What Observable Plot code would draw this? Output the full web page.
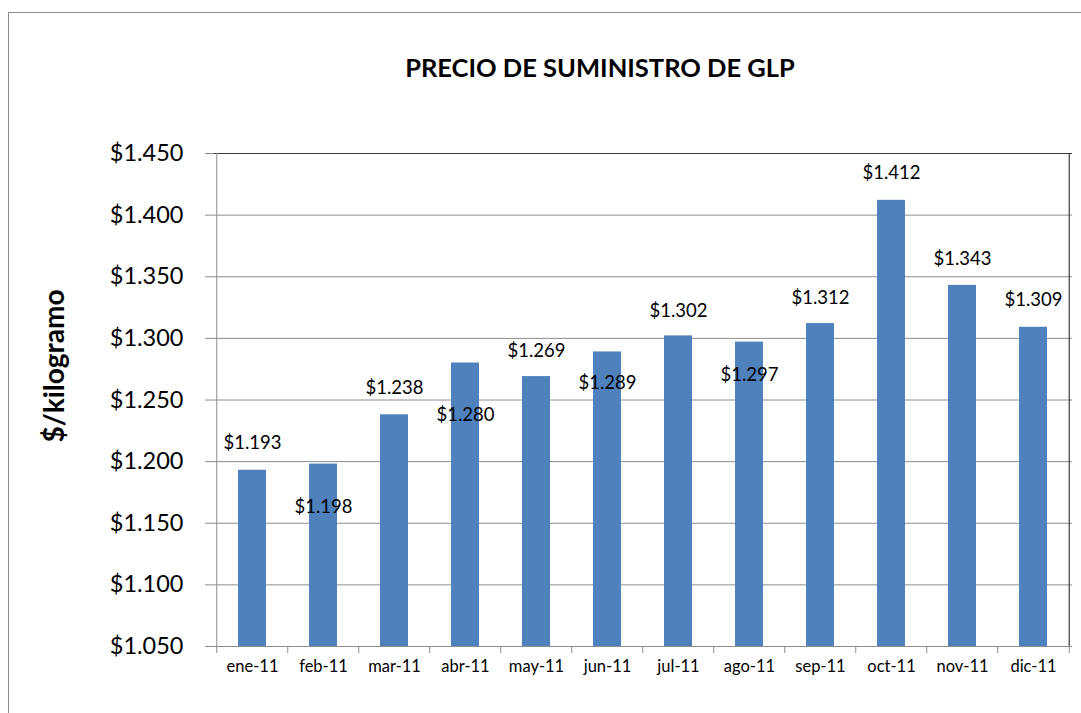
<!DOCTYPE html>
<html>
<head>
<meta charset="utf-8">
<script src="https://cdn.jsdelivr.net/npm/d3@7"></script>
<script src="https://cdn.jsdelivr.net/npm/@observablehq/plot@0.6"></script>
<style>
  html, body { margin: 0; padding: 0; background: #fff; width: 1081px; height: 713px; overflow: hidden; }
  body { position: relative; font-family: Lato, "Open Sans", sans-serif; }
  #border { position: absolute; left: 8px; top: 12px; width: 1100px; height: 760px; border: 1px solid #8c8c8c; box-sizing: border-box; }
  #title { position: absolute; left: 250px; width: 700px; top: 51px; text-align: center; font-weight: bold; font-size: 25.5px; color: #000; line-height: 32px; }
  #chart { position: absolute; left: 0; top: 100px; }
</style>
</head>
<body>
<div id="border"></div>
<div id="title">PRECIO DE SUMINISTRO DE GLP</div>
<div id="chart"></div>
<script>
const months = ["ene-11","feb-11","mar-11","abr-11","may-11","jun-11","jul-11","ago-11","sep-11","oct-11","nov-11","dic-11"];
const prices = [1.193, 1.198, 1.238, 1.280, 1.269, 1.289, 1.302, 1.297, 1.312, 1.412, 1.343, 1.309];
// where each value label sits (in $/kg units)
const labelAt = [1.2147, 1.1628, 1.2593, 1.2374, 1.2894, 1.2634, 1.3218, 1.2699, 1.3324, 1.4338, 1.364, 1.3307];
const yTicks = [1.05, 1.10, 1.15, 1.20, 1.25, 1.30, 1.35, 1.40, 1.45];
const yLabel = "$/kilogramo";

const data = months.map((m, i) => ({month: m, price: prices[i], labelAt: labelAt[i]}));

const W = 1081, H = 613;
const mL = 214, mR = 9, mT = 53, mB = 67;
const step = (W - mL - mR) / months.length;
const yMin = yTicks[0], yMax = yTicks[yTicks.length - 1];
const fmt = d3.format("$.3f");
const gray = "#8c8c8c";

const chart = Plot.plot({
  width: W, height: H,
  marginLeft: mL, marginRight: mR, marginTop: mT, marginBottom: mB,
  style: {fontFamily: "Lato, 'Open Sans', sans-serif", color: "#000", background: "transparent"},
  x: {domain: months, paddingInner: 0.6, paddingOuter: 0.3, axis: null},
  y: {domain: [yMin, yMax], axis: null},
  marks: [
    Plot.gridY(yTicks, {stroke: gray, strokeOpacity: 1, strokeWidth: 1}),
    Plot.ruleY([yMax], {stroke: "#3a3a3a", strokeWidth: 1.2}),
    Plot.ruleY([yMin], {stroke: gray, strokeWidth: 1}),
    Plot.ruleX(months.slice(0, 1), {x: d => d, dx: -step / 2, stroke: gray}),
    Plot.ruleX(months.slice(-1), {x: d => d, dx: step / 2, stroke: "#3a3a3a", strokeWidth: 1.2}),
    Plot.barY(data, {x: "month", y1: () => yMin, y2: "price", fill: "#4F81BD"}),
    Plot.text(data, {x: "month", y: "labelAt", text: d => fmt(d.price), fontSize: 18.5, fill: "#000"}),
    Plot.axisY({ticks: yTicks, tickFormat: fmt, tickSize: 9, tickPadding: 22, fontSize: 23.5, stroke: gray, fill: "#000", label: null}),
    Plot.axisX({tickSize: 7, dx: -step / 2, tickFormat: () => "", stroke: gray, label: null}),
    Plot.axisX(months.slice(-1), {tickSize: 7, dx: step / 2, tickFormat: () => "", stroke: gray, label: null}),
    Plot.axisX({tickSize: 0, tickPadding: 14, fontSize: 16.5, fill: "#000", label: null}),
    Plot.text([yLabel], {frameAnchor: "left", textAnchor: "middle", text: d => d, rotate: -90, dx: -159, dy: -34, fontSize: 28, fontWeight: "bold", fill: "#000"})
  ]
});
document.getElementById("chart").appendChild(chart);
</script>
</body>
</html>
